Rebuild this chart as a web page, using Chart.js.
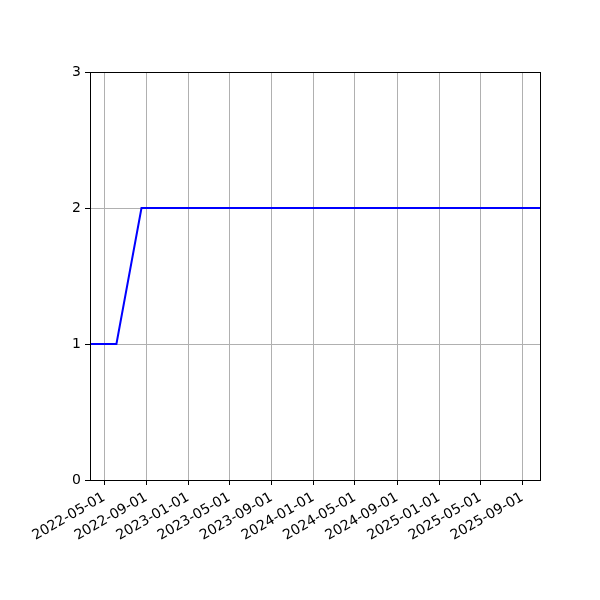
<!DOCTYPE html>
<html>
<head>
<meta charset="utf-8">
<script src="https://cdn.jsdelivr.net/npm/chart.js@4"></script>
<style>
    html, body { margin: 0; padding: 0; background: #fff; }
    #wrap { width: 600px; height: 600px; }
</style>
</head>
<body>
<div id="wrap"><canvas id="lineChart" width="600" height="600"></canvas></div>
<script>
// series
const point_dates = ["2022-03-21", "2022-06-06", "2022-08-18", "2025-10-22"];
const point_values = [1, 1, 2, 2];

// axis
const x_limits = ["2022-03-21", "2025-10-22"];
const x_tick_dates = [
    "2022-05-01", "2022-09-01", "2023-01-01", "2023-05-01", "2023-09-01",
    "2024-01-01", "2024-05-01", "2024-09-01", "2025-01-01", "2025-05-01",
    "2025-09-01"
];
const y_ticks = [0, 1, 2, 3];

function to_ms(s)
{
    const p = s.split("-").map(Number);
    return Date.UTC(p[0], p[1] - 1, p[2]);
}

function fmt_date(ms)
{
    const d = new Date(ms);
    const mm = String(d.getUTCMonth() + 1).padStart(2, "0");
    const dd = String(d.getUTCDate()).padStart(2, "0");
    return d.getUTCFullYear() + "-" + mm + "-" + dd;
}

const points = point_dates.map((d, i) => ({ x: to_ms(d), y: point_values[i] }));

// matplotlib style frame round the plot area
const framePlugin = {
    id: "frame",
    afterDraw(chart) {
        const a = chart.chartArea;
        const c = chart.ctx;
        c.save();
        c.strokeStyle = "#000";
        c.lineWidth = 1;
        c.strokeRect(Math.round(a.left) + 0.5, Math.round(a.top) + 0.5,
            Math.round(a.right - a.left), Math.round(a.bottom - a.top));
        c.restore();
    }
};

const font = { family: "'DejaVu Sans', sans-serif", size: 14 };

const ctx = document.getElementById("lineChart").getContext("2d");

const lineChart = new Chart(ctx, {
    type: "line",
    data: {
        datasets: [{
            data: points,
            borderColor: "#0000ff",
            borderWidth: 2,
            pointRadius: 0,
            tension: 0,
            fill: false
        }]
    },
    options: {
        responsive: false,
        animation: false,
        layout: { padding: { top: 72, right: 60, left: 0, bottom: 0 } },
        plugins: {
            legend: { display: false },
            tooltip: { enabled: false }
        },
        scales: {
            x: {
                type: "linear",
                min: to_ms(x_limits[0]),
                max: to_ms(x_limits[1]),
                afterBuildTicks: scale => {
                    scale.ticks = x_tick_dates.map(d => ({ value: to_ms(d) }));
                },
                afterFit: scale => { scale.height = 120; },
                ticks: {
                    font: font,
                    color: "#000",
                    minRotation: 30,
                    maxRotation: 30,
                    padding: 4,
                    callback: v => fmt_date(v)
                },
                grid: {
                    color: "#b0b0b0",
                    lineWidth: 1,
                    tickColor: "#000",
                    tickLength: 5
                },
                border: { color: "#000", width: 1 }
            },
            y: {
                min: 0,
                max: 3,
                afterBuildTicks: scale => {
                    scale.ticks = y_ticks.map(v => ({ value: v }));
                },
                afterFit: scale => { scale.width = 90; },
                ticks: {
                    font: font,
                    color: "#000",
                    padding: 4
                },
                grid: {
                    color: "#b0b0b0",
                    lineWidth: 1,
                    tickColor: "#000",
                    tickLength: 5
                },
                border: { color: "#000", width: 1 }
            }
        }
    },
    plugins: [framePlugin]
});
</script>
</body>
</html>
